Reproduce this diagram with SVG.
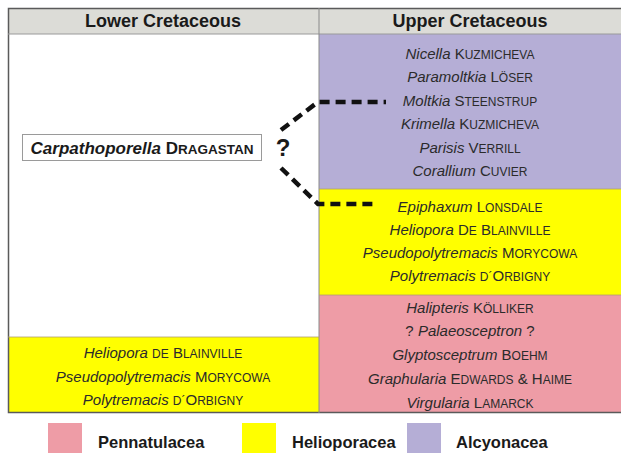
<svg xmlns="http://www.w3.org/2000/svg" width="621" height="459" viewBox="0 0 621 459">
<style>
.t{font-family:"Liberation Sans",Arial,sans-serif;font-size:15px;fill:#2b2b2b;text-anchor:middle}
.i{font-style:italic}
.sc{font-size:12px}
.h{font-family:"Liberation Sans",Arial,sans-serif;font-size:18px;font-weight:bold;fill:#1a1a1a;text-anchor:middle}
.lg{font-family:"Liberation Sans",Arial,sans-serif;font-size:16.5px;font-weight:bold;fill:#1a1a1a}
.dash{fill:none;stroke:#111;stroke-width:4.5;stroke-dasharray:10 6}
</style>
<rect width="621" height="459" fill="#fff"/>
<g id="header">
<rect x="8" y="8" width="613" height="26" fill="#dcdcd7"/>
<text class="h" x="163" y="27">Lower Cretaceous</text>
<text class="h" x="470" y="27">Upper Cretaceous</text>
</g>
<g id="alcyonacea-upper">
<rect x="319" y="34" width="302" height="155" fill="#b5aed6"/>
<text class="t" x="470" y="59"><tspan class="i">Nicella</tspan> K<tspan class="sc">UZMICHEVA</tspan></text>
<text class="t" x="470" y="82"><tspan class="i">Paramoltkia</tspan> L<tspan class="sc">ÖSER</tspan></text>
<text class="t" x="470" y="106"><tspan class="i">Moltkia</tspan> S<tspan class="sc">TEENSTRUP</tspan></text>
<text class="t" x="470" y="129"><tspan class="i">Krimella</tspan> K<tspan class="sc">UZMICHEVA</tspan></text>
<text class="t" x="470" y="153"><tspan class="i">Parisis</tspan> V<tspan class="sc">ERRILL</tspan></text>
<text class="t" x="470" y="176"><tspan class="i">Corallium</tspan> C<tspan class="sc">UVIER</tspan></text>
</g>
<g id="helioporacea-upper">
<rect x="319" y="189" width="302" height="106" fill="#ffff00"/>
<text class="t" x="470" y="212"><tspan class="i">Epiphaxum</tspan> L<tspan class="sc">ONSDALE</tspan></text>
<text class="t" x="470" y="235"><tspan class="i">Heliopora</tspan> D<tspan class="sc">E</tspan> B<tspan class="sc">LAINVILLE</tspan></text>
<text class="t" x="470" y="258"><tspan class="i">Pseudopolytremacis</tspan> M<tspan class="sc">ORYCOWA</tspan></text>
<text class="t" x="470" y="281"><tspan class="i">Polytremacis</tspan> <tspan class="sc">D´</tspan>O<tspan class="sc">RBIGNY</tspan></text>
</g>
<g id="pennatulacea-upper">
<rect x="319" y="295" width="302" height="118" fill="#ee9ca6"/>
<text class="t" x="470" y="313"><tspan class="i">Halipteris</tspan> K<tspan class="sc">ÖLLIKER</tspan></text>
<text class="t" x="470" y="336">? <tspan class="i">Palaeosceptron</tspan> ?</text>
<text class="t" x="470" y="360"><tspan class="i">Glyptosceptrum</tspan> B<tspan class="sc">OEHM</tspan></text>
<text class="t" x="470" y="384"><tspan class="i">Graphularia</tspan> E<tspan class="sc">DWARDS</tspan> &amp; H<tspan class="sc">AIME</tspan></text>
<text class="t" x="470" y="408"><tspan class="i">Virgularia</tspan> L<tspan class="sc">AMARCK</tspan></text>
</g>
<g id="helioporacea-lower">
<rect x="8" y="337" width="311" height="76" fill="#ffff00"/>
<text class="t" x="163" y="358"><tspan class="i">Heliopora</tspan> <tspan class="sc">DE</tspan> B<tspan class="sc">LAINVILLE</tspan></text>
<text class="t" x="163" y="382"><tspan class="i">Pseudopolytremacis</tspan> M<tspan class="sc">ORYCOWA</tspan></text>
<text class="t" x="163" y="405"><tspan class="i">Polytremacis</tspan> <tspan class="sc">D´</tspan>O<tspan class="sc">RBIGNY</tspan></text>
</g>
<g id="frame" fill="none" stroke="#5a5a5a">
<path d="M621 8.5H8.5V412.5H621" stroke-width="1.5"/>
<path d="M8 34H621" stroke="#9a9a9a" stroke-width="1"/>
<path d="M319 8V413" stroke="#8a8a8a" stroke-width="1"/>
<path d="M319 189H621M319 295H621M8 337H319" stroke="#b0a070" stroke-width="0.8"/>
</g>
<g id="carpathoporella">
<rect x="22.5" y="134.5" width="239" height="26" fill="#fff" stroke="#9a9a9a" stroke-width="1"/>
<text class="t" x="142" y="153.5" style="font-weight:bold;font-size:17px;fill:#1a1a1a"><tspan class="i">Carpathoporella</tspan> D<tspan style="font-size:13.5px">RAGASTAN</tspan></text>
<text x="283" y="156" style="font-family:'Liberation Sans',Arial,sans-serif;font-size:24px;font-weight:bold;fill:#1a1a1a;text-anchor:middle">?</text>
</g>
<g id="connectors">
<path class="dash" d="M281 130L318 102H386"/>
<path class="dash" d="M281 168L318 204H378"/>
</g>
<g id="legend">
<rect x="48" y="423" width="34" height="30" fill="#ee9ca6"/>
<text class="lg" x="98" y="448">Pennatulacea</text>
<rect x="242" y="423" width="34" height="30" fill="#ffff00"/>
<text class="lg" x="292" y="448">Helioporacea</text>
<rect x="407" y="423" width="34" height="30" fill="#b5aed6"/>
<text class="lg" x="456" y="448">Alcyonacea</text>
</g>
</svg>
